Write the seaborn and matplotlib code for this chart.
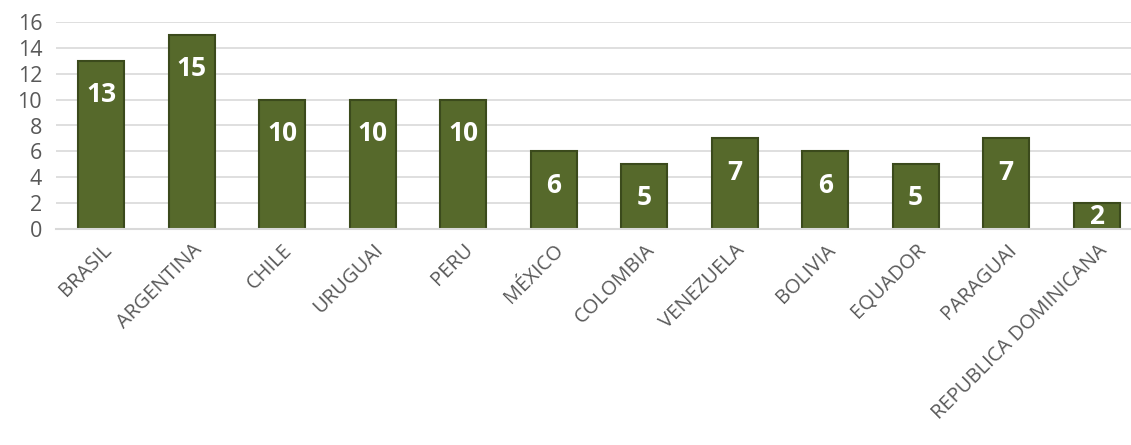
import matplotlib
matplotlib.use("Agg")
import matplotlib.pyplot as plt
import seaborn as sns
import pandas as pd

countries = ["BRASIL", "ARGENTINA", "CHILE", "URUGUAI", "PERU", "MÉXICO", "COLOMBIA",
             "VENEZUELA", "BOLIVIA", "EQUADOR", "PARAGUAI", "REPUBLICA DOMINICANA"]
values = [13, 15, 10, 10, 10, 6, 5, 7, 6, 5, 7, 2]
yticks = [0, 2, 4, 6, 8, 10, 12, 14, 16]

sns.set_theme(style="white")
plt.rcParams['font.family'] = ['Open Sans', 'DejaVu Sans']

df = pd.DataFrame({"pais": countries, "valor": values})

fig = plt.figure(figsize=(11.31, 4.45), dpi=100)
ax = fig.add_axes([56/1131, 1-229/445, 1086/1131, (229-22)/445])

sns.barplot(data=df, x="pais", y="valor", color="#56692B", width=0.51,
            edgecolor="#3B4A1C", linewidth=1.5, saturation=1, ax=ax)

ax.set_ylim(0, 16)
ax.set_xlim(-0.5, len(countries) - 0.5)
ax.set_yticks(yticks)
ax.yaxis.grid(True, color="#D9D9D9", linewidth=1.2)
ax.set_axisbelow(True)
for s in ["top", "right", "left"]:
    ax.spines[s].set_visible(False)
ax.spines["bottom"].set_color("#D9D9D9")
ax.spines["bottom"].set_linewidth(1.5)
ax.set_xlabel("")
ax.set_ylabel("")
ax.tick_params(axis="y", labelsize=15.5, labelcolor="#595959", length=0, pad=10)
ax.tick_params(axis="x", labelsize=14.5, labelcolor="#595959", length=0, pad=8)
plt.setp(ax.get_xticklabels(), rotation=45, ha="right", rotation_mode="anchor")

for p, v in zip(ax.patches, values):
    x = p.get_x() + p.get_width() / 2
    ax.text(x, v - 2.6 if v > 2 else v / 2, str(v), ha="center", va="center",
            color="white", fontsize=19, fontweight="bold")

fig.savefig("out.png", dpi=100)
